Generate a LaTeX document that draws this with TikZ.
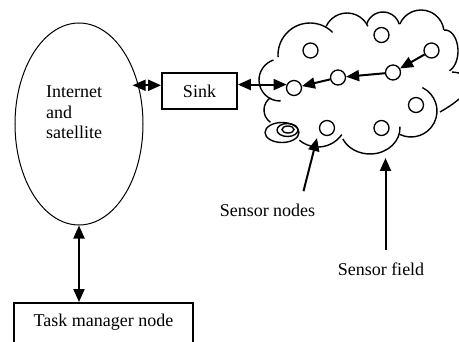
\documentclass[tikz,border=0pt]{standalone}
\usepackage{fontspec}
\setmainfont{Liberation Serif}
\usetikzlibrary{shapes.geometric,arrows.meta}

\begin{document}
\begin{tikzpicture}[x=1pt, y=1pt,
	every node/.append style={font=\fontsize{18}{20.5}\selectfont},
	boxnode/.style={draw, line width=1.8pt, inner sep=0pt},
	sensor/.style={circle, draw, line width=1.3pt, minimum size=15pt, inner sep=0pt},
	arr/.style={line width=2pt, -{Triangle[length=13pt, width=11pt]}},
	dbl/.style={line width=2pt, {Triangle[length=13pt, width=11pt]}-{Triangle[length=13pt, width=11pt]}},
	cloudline/.style={line width=1.4pt}]
	\useasboundingbox (0,0) rectangle (459,341);
	\clip (0,0) rectangle (459,341);
	\node[ellipse, draw, line width=1pt, minimum width=128pt, minimum height=202pt, inner sep=0pt] (inet) at (79,217) {};
	\node[anchor=west, align=left, inner sep=0pt] (inettext) at (46,228.5) {Internet\\and\\satellite};
	\node[boxnode, minimum width=75pt, minimum height=36pt] (sink) at (199.5,250) {Sink};
	\node[boxnode, anchor=north, minimum width=179pt, inner ysep=12pt, text height=12pt, text depth=12pt] (task) at (103.5,39) {Task manager node};
	\draw[cloudline] (280,261) ++(-88:21) arc (-88:-252:21);
	\draw[cloudline] (310,286) ++(-176:32) arc (-176:-315:32);
	\draw[cloudline] (347,305) ++(-205:23) arc (-205:-335:23);
	\draw[cloudline] (383,312) ++(-197:17) arc (-197:-344:17);
	\draw[cloudline] (421,308) ++(-203:23) arc (-203:-352:23);
	\draw[cloudline] (445,290) ++(95:13 and 21) arc (95:-70:13 and 21);
	\draw[cloudline] (452,269) .. controls (485,266) and (470,246) .. (440,229);
	\draw[cloudline] (411,230) ++(64:26) arc (64:-116:26);
	\draw[cloudline] (370,213) ++(3:30 and 26) arc (3:-155:30 and 26);
	\draw[cloudline] (318,223) ++(-35:29) arc (-35:-130:29);
	\draw[cloudline] (279,231) ++(-125:15) arc (-125:-235:15);
	\draw[cloudline] (282,208.5) ellipse (17 and 10);
	\draw[cloudline] (287.5,211) ellipse (10.5 and 6.5);
	\draw[cloudline] (288,211.5) ellipse (6 and 3.5);
	\node[sensor] (s1) at (294,253) {};
	\node[sensor] (s2) at (338,263.5) {};
	\node[sensor] (s3) at (393,268.5) {};
	\node[sensor] (s4) at (431.5,290.5) {};
	\node[sensor] (s5) at (381.5,306) {};
	\node[sensor] (s6) at (310.5,290.5) {};
	\node[sensor] (s7) at (416,236) {};
	\node[sensor] (s8) at (327,213) {};
	\node[sensor] (s9) at (381.5,213) {};
	\draw[dbl, shorten <=-6pt] (inet.33) -- (inet.33 -| sink.west);
	\draw[dbl] (inet.south) -- (inet.south |- task.north);
	\draw[dbl] (sink.east |- s1.155) -- (s1.155);
	\draw[arr] (s2) -- (s1);
	\draw[arr] (s3) -- (s2);
	\draw[arr] (s4) -- (s3);
	\node (snlabel) at (267.5,131) {Sensor nodes};
	\node (sflabel) at (381,72) {Sensor field};
	\coordinate (snp) at (317,203);
	\coordinate (sfp) at (385.5,183);
	\draw[arr] ([xshift=36pt,yshift=9pt]snlabel.north) -- (snp);
	\draw[arr] ([yshift=9pt]sflabel.north -| sfp) -- (sfp);
\end{tikzpicture}
\end{document}
